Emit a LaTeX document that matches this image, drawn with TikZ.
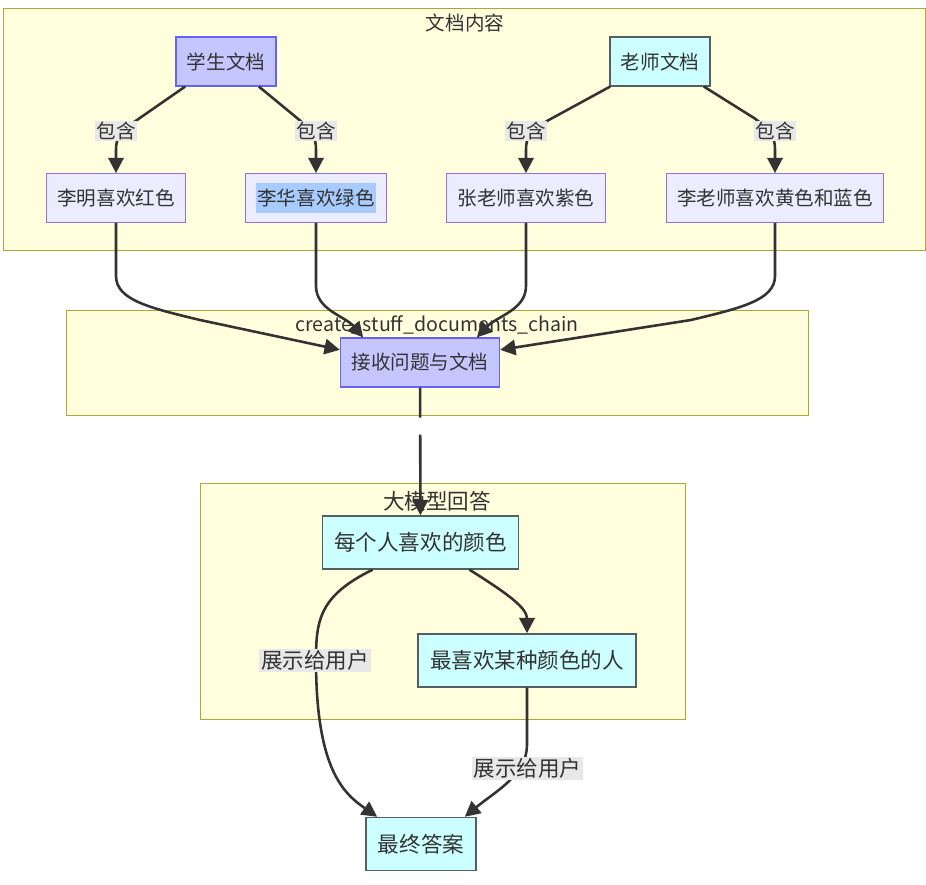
\documentclass[tikz,border=0pt]{standalone}
\usepackage{fontspec}
\setmainfont{Noto Sans CJK SC}
\usetikzlibrary{arrows.meta}

\definecolor{clusterfill}{HTML}{FFFFDE}
\definecolor{clusterline}{HTML}{AAAA33}
\definecolor{boxfill}{HTML}{ECECFF}
\definecolor{boxline}{HTML}{9370DB}
\definecolor{bluefill}{HTML}{C6C6FF}
\definecolor{blueline}{HTML}{6464F0}
\definecolor{cyanfill}{HTML}{CCFFFF}
\definecolor{cyanline}{HTML}{555F5F}
\definecolor{labelfill}{HTML}{E8E8E8}
\definecolor{edgeline}{HTML}{333333}
\definecolor{selectfill}{HTML}{A8CCFF}

\newcommand{\topfont}{\fontsize{16.7pt}{20pt}\selectfont}
\newcommand{\lowfont}{\fontsize{18.4pt}{22pt}\selectfont}

\tikzset{
  cluster/.style={draw=clusterline, fill=clusterfill, line width=0.8pt},
  box/.style={draw=boxline, fill=boxfill, line width=0.9pt, inner xsep=3.3mm,
    minimum height=14.6mm, text=edgeline, font=\topfont},
  blue box/.style={box, draw=blueline, fill=bluefill, line width=1.2pt},
  cyan box/.style={box, draw=cyanline, fill=cyanfill, line width=1.2pt},
  low box/.style={cyan box, inner xsep=3.6mm, minimum height=15.9mm, font=\lowfont},
  lbl/.style={fill=labelfill, inner sep=0.3mm, text=edgeline, font=\topfont},
  low lbl/.style={lbl, inner xsep=0.6mm, inner ysep=0.5mm, font=\lowfont},
  edge/.style={draw=edgeline, line width=2.2pt, -{Triangle[length=4.6mm,width=4.6mm]}}
}

\begin{document}
\begin{tikzpicture}
    [x=0.3mm, y=-0.3mm]
    \useasboundingbox (0,0) rectangle (926,885);
    % subgraphs
    \draw[cluster] (3,8) rectangle (925,250);
    \draw[cluster] (66,310) rectangle (808,415);
    \draw[cluster] (200,483) rectangle (685,719);
    \node[font=\topfont, text=edgeline] (D) at (465,23) {文档内容};
    \node[font=\topfont, text=edgeline] (K) at (437,325) {create\_stuff\_documents\_chain};
    \node[font=\lowfont, text=edgeline] (L) at (437,501) {大模型回答};

    \node[blue box] (S) at (226,61.5) {学生文档};
    \node[cyan box] (T) at (660,61.5) {老师文档};
    \node[box] (S1) at (116,198) {李明喜欢红色};
    \node[box] (S2) at (316,198) {\setlength{\fboxsep}{0.3mm}\colorbox{selectfill}{\rule[-2mm]{0pt}{8.4mm}李华喜欢绿色}};
    \node[box] (T1) at (526,198) {张老师喜欢紫色};
    \node[box] (T2) at (775,198) {李老师喜欢黄色和蓝色};
    \node[blue box] (R) at (420,362.5) {接收问题与文档};
    \node[low box] (C) at (420.5,542.5) {每个人喜欢的颜色};
    \node[low box] (M) at (527,660.5) {最喜欢某种颜色的人};
    \node[low box] (A) at (421,844) {最终答案};

    \draw[edge] ([xshift=3mm]S.south west) -- (137,120) .. controls (120,131) and (116,138) .. (116,150) -- (S1);
    \draw[edge] ([xshift=-5.4mm]S.south east) -- (297,118) .. controls (313,131) and (316,138) .. (316,150) -- (S2);
    \draw[edge] ([xshift=0.3mm]T.south west) -- (547,121) .. controls (529,132) and (526,138) .. (526,150) -- (T1);
    \draw[edge] ([xshift=-2.1mm]T.south east) -- (754,118) .. controls (772,131) and (775,138) .. (775,150) -- (T2);

    \draw[edge] (S1.south) -- (116,276) .. controls (116,300) and (150,308) .. (200,320) -- ([yshift=3.8mm]R.west);
    \draw[edge] (S2.south) -- (316,286) .. controls (316,310) and (345,316) .. ([xshift=7mm]R.north west);
    \draw[edge] (T1.south) -- (526,286) .. controls (526,310) and (497,316) .. ([xshift=-7mm]R.north east);
    \draw[edge] (T2.south) -- (775,276) .. controls (775,300) and (741,308) .. (691,320) -- ([yshift=3.8mm]R.east);

    \draw[edge, dash pattern=on 9mm off 5.1mm on 50mm] (R) -- (C);

    \draw[edge] ([xshift=15.3mm]C.south west) .. controls +(-53,26) and +(0,-40) .. (316,660)
      .. controls +(0,110) and +(-33,-23) .. ([xshift=3.6mm]A.north west);
    \draw[edge] ([xshift=-15mm]C.south east) .. controls +(40,25) and +(0,-25) .. (M.north);
    \draw[edge] (M.south) -- (527,745) .. controls +(0,30) and +(30,-25) .. ([xshift=-3.6mm]A.north east);

    \node[lbl] (E1) at (116,131) {包含};
    \node[lbl] (E2) at (316,131) {包含};
    \node[lbl] (E3) at (526,131) {包含};
    \node[lbl] (E4) at (775,131) {包含};
    \node[low lbl] (E5) at (315,660.5) {展示给用户};
    \node[low lbl] (E6) at (527.5,768.5) {展示给用户};
  \end{tikzpicture}
\end{document}
